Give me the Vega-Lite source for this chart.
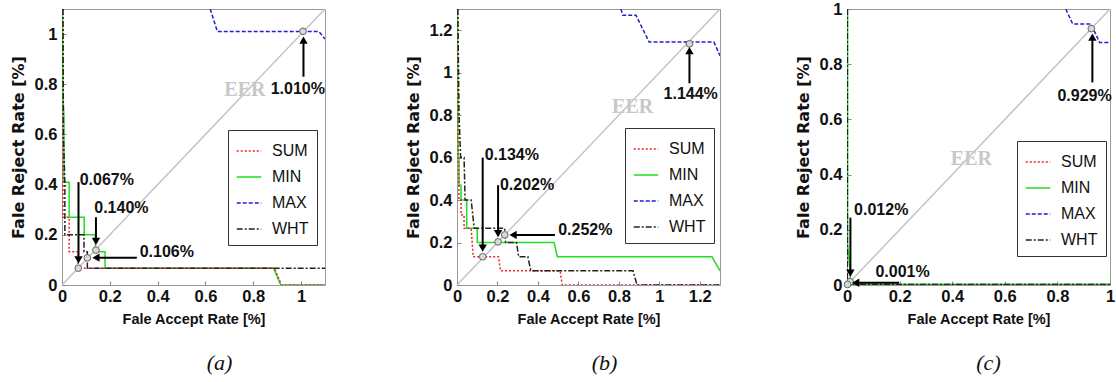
{
  "$schema": "https://vega.github.io/schema/vega-lite/v6.json",
  "padding": {"left": 9, "top": 0, "right": 0, "bottom": 0},
  "spacing": 75,
  "datasets": {
    "diagA": [{"x": 0, "y": 0}, {"x": 1.1, "y": 1.1}],
    "diagB": [{"x": 0, "y": 0}, {"x": 1.3, "y": 1.3}],
    "diagC": [{"x": 0, "y": 0}, {"x": 1, "y": 1}],
    "curvesA": [
      {"s": "MIN", "i": 0, "x": 0.002, "y": 1.1}, {"s": "MIN", "i": 1, "x": 0.004, "y": 0.75}, {"s": "MIN", "i": 2, "x": 0.008, "y": 0.67}, {"s": "MIN", "i": 3, "x": 0.008, "y": 0.41}, {"s": "MIN", "i": 4, "x": 0.03, "y": 0.41}, {"s": "MIN", "i": 5, "x": 0.03, "y": 0.27}, {"s": "MIN", "i": 6, "x": 0.093, "y": 0.27}, {"s": "MIN", "i": 7, "x": 0.093, "y": 0.2}, {"s": "MIN", "i": 8, "x": 0.14, "y": 0.2}, {"s": "MIN", "i": 9, "x": 0.14, "y": 0.133}, {"s": "MIN", "i": 10, "x": 0.18, "y": 0.133}, {"s": "MIN", "i": 11, "x": 0.18, "y": 0.067}, {"s": "MIN", "i": 12, "x": 0.885, "y": 0.067}, {"s": "MIN", "i": 13, "x": 0.915, "y": 0}, {"s": "MIN", "i": 14, "x": 1.1, "y": 0},
      {"s": "SUM", "i": 0, "x": 0.004, "y": 1.1}, {"s": "SUM", "i": 1, "x": 0.004, "y": 0.27}, {"s": "SUM", "i": 2, "x": 0.03, "y": 0.27}, {"s": "SUM", "i": 3, "x": 0.03, "y": 0.133}, {"s": "SUM", "i": 4, "x": 0.067, "y": 0.133}, {"s": "SUM", "i": 5, "x": 0.067, "y": 0.067}, {"s": "SUM", "i": 6, "x": 0.888, "y": 0.067}, {"s": "SUM", "i": 7, "x": 0.918, "y": 0}, {"s": "SUM", "i": 8, "x": 1.1, "y": 0},
      {"s": "WHT", "i": 0, "x": 0.004, "y": 1.1}, {"s": "WHT", "i": 1, "x": 0.006, "y": 0.6}, {"s": "WHT", "i": 2, "x": 0.012, "y": 0.4}, {"s": "WHT", "i": 3, "x": 0.012, "y": 0.2}, {"s": "WHT", "i": 4, "x": 0.092, "y": 0.2}, {"s": "WHT", "i": 5, "x": 0.092, "y": 0.133}, {"s": "WHT", "i": 6, "x": 0.106, "y": 0.133}, {"s": "WHT", "i": 7, "x": 0.106, "y": 0.067}, {"s": "WHT", "i": 8, "x": 1.1, "y": 0.067},
      {"s": "MAX", "i": 0, "x": 0.62, "y": 1.1}, {"s": "MAX", "i": 1, "x": 0.65, "y": 1.01}, {"s": "MAX", "i": 2, "x": 1.075, "y": 1.01}, {"s": "MAX", "i": 3, "x": 1.1, "y": 0.98}
    ],
    "curvesB": [
      {"s": "MIN", "i": 0, "x": 0.002, "y": 1.3}, {"s": "MIN", "i": 1, "x": 0.005, "y": 0.6}, {"s": "MIN", "i": 2, "x": 0.01, "y": 0.6}, {"s": "MIN", "i": 3, "x": 0.01, "y": 0.47}, {"s": "MIN", "i": 4, "x": 0.02, "y": 0.47}, {"s": "MIN", "i": 5, "x": 0.02, "y": 0.4}, {"s": "MIN", "i": 6, "x": 0.048, "y": 0.4}, {"s": "MIN", "i": 7, "x": 0.048, "y": 0.267}, {"s": "MIN", "i": 8, "x": 0.1, "y": 0.267}, {"s": "MIN", "i": 9, "x": 0.1, "y": 0.2}, {"s": "MIN", "i": 10, "x": 0.48, "y": 0.2}, {"s": "MIN", "i": 11, "x": 0.496, "y": 0.133}, {"s": "MIN", "i": 12, "x": 1.26, "y": 0.133}, {"s": "MIN", "i": 13, "x": 1.3, "y": 0.067},
      {"s": "SUM", "i": 0, "x": 0.003, "y": 1.3}, {"s": "SUM", "i": 1, "x": 0.005, "y": 0.7}, {"s": "SUM", "i": 2, "x": 0.01, "y": 0.4}, {"s": "SUM", "i": 3, "x": 0.02, "y": 0.4}, {"s": "SUM", "i": 4, "x": 0.02, "y": 0.33}, {"s": "SUM", "i": 5, "x": 0.035, "y": 0.33}, {"s": "SUM", "i": 6, "x": 0.035, "y": 0.267}, {"s": "SUM", "i": 7, "x": 0.07, "y": 0.267}, {"s": "SUM", "i": 8, "x": 0.075, "y": 0.2}, {"s": "SUM", "i": 9, "x": 0.08, "y": 0.133}, {"s": "SUM", "i": 10, "x": 0.205, "y": 0.133}, {"s": "SUM", "i": 11, "x": 0.215, "y": 0.067}, {"s": "SUM", "i": 12, "x": 0.51, "y": 0.067}, {"s": "SUM", "i": 13, "x": 0.52, "y": 0}, {"s": "SUM", "i": 14, "x": 1.3, "y": 0},
      {"s": "WHT", "i": 0, "x": 0.004, "y": 1.3}, {"s": "WHT", "i": 1, "x": 0.01, "y": 0.8}, {"s": "WHT", "i": 2, "x": 0.018, "y": 0.6}, {"s": "WHT", "i": 3, "x": 0.035, "y": 0.6}, {"s": "WHT", "i": 4, "x": 0.04, "y": 0.4}, {"s": "WHT", "i": 5, "x": 0.07, "y": 0.4}, {"s": "WHT", "i": 6, "x": 0.085, "y": 0.267}, {"s": "WHT", "i": 7, "x": 0.236, "y": 0.267}, {"s": "WHT", "i": 8, "x": 0.24, "y": 0.2}, {"s": "WHT", "i": 9, "x": 0.294, "y": 0.2}, {"s": "WHT", "i": 10, "x": 0.305, "y": 0.133}, {"s": "WHT", "i": 11, "x": 0.35, "y": 0.133}, {"s": "WHT", "i": 12, "x": 0.365, "y": 0.067}, {"s": "WHT", "i": 13, "x": 0.87, "y": 0.067}, {"s": "WHT", "i": 14, "x": 0.89, "y": 0}, {"s": "WHT", "i": 15, "x": 1.3, "y": 0},
      {"s": "MAX", "i": 0, "x": 0.81, "y": 1.3}, {"s": "MAX", "i": 1, "x": 0.82, "y": 1.27}, {"s": "MAX", "i": 2, "x": 0.885, "y": 1.27}, {"s": "MAX", "i": 3, "x": 0.95, "y": 1.144}, {"s": "MAX", "i": 4, "x": 1.27, "y": 1.144}, {"s": "MAX", "i": 5, "x": 1.3, "y": 1.08}
    ],
    "curvesC": [
      {"s": "MIN", "i": 0, "x": 0.002, "y": 1}, {"s": "MIN", "i": 1, "x": 0.002, "y": 0.15}, {"s": "MIN", "i": 2, "x": 0.012, "y": 0.05}, {"s": "MIN", "i": 3, "x": 0.012, "y": 0.003}, {"s": "MIN", "i": 4, "x": 1, "y": 0.003},
      {"s": "SUM", "i": 0, "x": 0.001, "y": 1}, {"s": "SUM", "i": 1, "x": 0.001, "y": 0.001}, {"s": "SUM", "i": 2, "x": 1, "y": 0.001},
      {"s": "WHT", "i": 0, "x": 0.0015, "y": 1}, {"s": "WHT", "i": 1, "x": 0.0015, "y": 0.002}, {"s": "WHT", "i": 2, "x": 1, "y": 0.002},
      {"s": "MAX", "i": 0, "x": 0.832, "y": 1}, {"s": "MAX", "i": 1, "x": 0.858, "y": 0.946}, {"s": "MAX", "i": 2, "x": 0.928, "y": 0.946}, {"s": "MAX", "i": 3, "x": 0.96, "y": 0.879}, {"s": "MAX", "i": 4, "x": 1, "y": 0.879}
    ],
    "eerA": [{"x": 0.068, "y": 0.067}, {"x": 0.106, "y": 0.108}, {"x": 0.142, "y": 0.139}, {"x": 1.008, "y": 1.011}],
    "eerB": [{"x": 0.127, "y": 0.133}, {"x": 0.203, "y": 0.203}, {"x": 0.236, "y": 0.236}, {"x": 1.149, "y": 1.136}],
    "eerC": [{"x": 0.012, "y": 0.012}, {"x": 0.002, "y": 0.002}, {"x": 0.929, "y": 0.929}],
    "arrowsA": [
      {"x": 1.01, "y": 0.83, "x2": 1.01, "y2": 0.976, "dir": "up"},
      {"x": 0.069, "y": 0.41, "x2": 0.069, "y2": 0.1, "dir": "down"},
      {"x": 0.142, "y": 0.27, "x2": 0.142, "y2": 0.174, "dir": "down"},
      {"x": 0.313, "y": 0.109, "x2": 0.142, "y2": 0.109, "dir": "left"}
    ],
    "arrowsB": [
      {"x": 1.149, "y": 0.95, "x2": 1.149, "y2": 1.104, "dir": "up"},
      {"x": 0.127, "y": 0.6, "x2": 0.127, "y2": 0.174, "dir": "down"},
      {"x": 0.203, "y": 0.47, "x2": 0.203, "y2": 0.242, "dir": "down"},
      {"x": 0.484, "y": 0.236, "x2": 0.277, "y2": 0.236, "dir": "left"}
    ],
    "arrowsC": [
      {"x": 0.933, "y": 0.734, "x2": 0.933, "y2": 0.898, "dir": "up"},
      {"x": 0.013, "y": 0.244, "x2": 0.013, "y2": 0.043, "dir": "down"},
      {"x": 0.198, "y": 0.008, "x2": 0.033, "y2": 0.008, "dir": "left"}
    ],
    "labelsA": [
      {"x": 0.873, "y": 0.78, "t": "1.010%"},
      {"x": 0.074, "y": 0.42, "t": "0.067%"},
      {"x": 0.135, "y": 0.305, "t": "0.140%"},
      {"x": 0.325, "y": 0.13, "t": "0.106%"}
    ],
    "labelsB": [
      {"x": 1.021, "y": 0.9, "t": "1.144%"},
      {"x": 0.137, "y": 0.613, "t": "0.134%"},
      {"x": 0.212, "y": 0.47, "t": "0.202%"},
      {"x": 0.5, "y": 0.26, "t": "0.252%"}
    ],
    "labelsC": [
      {"x": 0.8, "y": 0.686, "t": "0.929%"},
      {"x": 0.027, "y": 0.27, "t": "0.012%"},
      {"x": 0.108, "y": 0.048, "t": "0.001%"}
    ],
    "eerTextA": [{"x": 0.765, "y": 0.776, "t": "EER"}],
    "eerTextB": [{"x": 0.868, "y": 0.84, "t": "EER"}],
    "eerTextC": [{"x": 0.473, "y": 0.458, "t": "EER"}]
  },
  "hconcat": [
    {
      "width": 263, "height": 276,
      "title": {"text": "(a)", "dx": 26},
      "layer": [
        {"data": {"name": "diagA"}, "mark": {"type": "line", "color": "#c4c4c4", "strokeWidth": 1.5},
         "encoding": {
           "x": {"field": "x", "type": "quantitative", "scale": {"domain": [0, 1.1], "nice": false}, "axis": {"values": [0, 0.2, 0.4, 0.6, 0.8, 1], "format": "~g"}, "title": "Fale Accept Rate [%]"},
           "y": {"field": "y", "type": "quantitative", "scale": {"domain": [0, 1.1], "nice": false}, "axis": {"values": [0, 0.2, 0.4, 0.6, 0.8, 1], "format": "~g"}, "title": "Fale Reject Rate [%]"}
         }},
        {"data": {"name": "curvesA"}, "mark": {"type": "line", "strokeWidth": 1.5, "clip": true},
         "encoding": {
           "x": {"field": "x", "type": "quantitative"},
           "y": {"field": "y", "type": "quantitative"},
           "order": {"field": "i", "type": "quantitative"},
           "color": {"field": "s", "type": "nominal", "title": null, "scale": {"domain": ["SUM", "MIN", "MAX", "WHT"], "range": ["#e8252a", "#22dd22", "#1f1fd6", "#222222"]}, "legend": {"orient": "none", "legendX": 166, "legendY": 121}},
           "strokeDash": {"field": "s", "type": "nominal", "title": null, "scale": {"domain": ["SUM", "MIN", "MAX", "WHT"], "range": [[2, 2], [1, 0], [4, 2], [6, 2, 2, 2]]}, "legend": {"orient": "none", "legendX": 166, "legendY": 121}}
         }},
        {"data": {"name": "eerA"}, "mark": {"type": "point", "shape": "circle", "size": 45, "filled": true, "fill": "#d8d8d8", "stroke": "#666", "strokeWidth": 1, "opacity": 1},
         "encoding": {"x": {"field": "x", "type": "quantitative"}, "y": {"field": "y", "type": "quantitative"}}},
        {"data": {"name": "arrowsA"}, "mark": {"type": "rule", "color": "black", "strokeWidth": 2},
         "encoding": {"x": {"field": "x", "type": "quantitative"}, "y": {"field": "y", "type": "quantitative"}, "x2": {"field": "x2"}, "y2": {"field": "y2"}}},
        {"data": {"name": "arrowsA"}, "mark": {"type": "point", "filled": true, "color": "black", "size": 70, "opacity": 1},
         "encoding": {"x": {"field": "x2", "type": "quantitative"}, "y": {"field": "y2", "type": "quantitative"},
           "shape": {"field": "dir", "type": "nominal", "scale": {"domain": ["up", "down", "left"], "range": ["triangle-up", "triangle-down", "triangle-left"]}, "legend": null}}},
        {"data": {"name": "labelsA"}, "mark": {"type": "text", "align": "left", "baseline": "middle", "font": "Liberation Sans", "fontWeight": "bold", "fontSize": 16, "color": "#111"},
         "encoding": {"x": {"field": "x", "type": "quantitative"}, "y": {"field": "y", "type": "quantitative"}, "text": {"field": "t"}}},
        {"data": {"name": "eerTextA"}, "mark": {"type": "text", "align": "center", "baseline": "middle", "font": "Liberation Serif", "fontWeight": "bold", "fontSize": 20, "color": "#c8c8c8"},
         "encoding": {"x": {"field": "x", "type": "quantitative"}, "y": {"field": "y", "type": "quantitative"}, "text": {"field": "t"}}}
      ]
    },
    {
      "spacing": 70,
      "hconcat": [
        {
          "width": 263, "height": 276,
          "title": {"text": "(b)", "dx": 16},
          "layer": [
            {"data": {"name": "diagB"}, "mark": {"type": "line", "color": "#c4c4c4", "strokeWidth": 1.5},
             "encoding": {
               "x": {"field": "x", "type": "quantitative", "scale": {"domain": [0, 1.3], "nice": false}, "axis": {"values": [0, 0.2, 0.4, 0.6, 0.8, 1, 1.2], "format": "~g"}, "title": "Fale Accept Rate [%]"},
               "y": {"field": "y", "type": "quantitative", "scale": {"domain": [0, 1.3], "nice": false}, "axis": {"values": [0, 0.2, 0.4, 0.6, 0.8, 1, 1.2], "format": "~g"}, "title": "Fale Reject Rate [%]"}
             }},
            {"data": {"name": "curvesB"}, "mark": {"type": "line", "strokeWidth": 1.5, "clip": true},
             "encoding": {
               "x": {"field": "x", "type": "quantitative"},
               "y": {"field": "y", "type": "quantitative"},
               "order": {"field": "i", "type": "quantitative"},
               "color": {"field": "s", "type": "nominal", "title": null, "scale": {"domain": ["SUM", "MIN", "MAX", "WHT"], "range": ["#e8252a", "#22dd22", "#1f1fd6", "#222222"]}, "legend": {"orient": "none", "legendX": 168, "legendY": 119}},
               "strokeDash": {"field": "s", "type": "nominal", "title": null, "scale": {"domain": ["SUM", "MIN", "MAX", "WHT"], "range": [[2, 2], [1, 0], [4, 2], [6, 2, 2, 2]]}, "legend": {"orient": "none", "legendX": 168, "legendY": 119}}
             }},
            {"data": {"name": "eerB"}, "mark": {"type": "point", "shape": "circle", "size": 45, "filled": true, "fill": "#d8d8d8", "stroke": "#666", "strokeWidth": 1, "opacity": 1},
             "encoding": {"x": {"field": "x", "type": "quantitative"}, "y": {"field": "y", "type": "quantitative"}}},
            {"data": {"name": "arrowsB"}, "mark": {"type": "rule", "color": "black", "strokeWidth": 2},
             "encoding": {"x": {"field": "x", "type": "quantitative"}, "y": {"field": "y", "type": "quantitative"}, "x2": {"field": "x2"}, "y2": {"field": "y2"}}},
            {"data": {"name": "arrowsB"}, "mark": {"type": "point", "filled": true, "color": "black", "size": 70, "opacity": 1},
             "encoding": {"x": {"field": "x2", "type": "quantitative"}, "y": {"field": "y2", "type": "quantitative"},
               "shape": {"field": "dir", "type": "nominal", "scale": {"domain": ["up", "down", "left"], "range": ["triangle-up", "triangle-down", "triangle-left"]}, "legend": null}}},
            {"data": {"name": "labelsB"}, "mark": {"type": "text", "align": "left", "baseline": "middle", "font": "Liberation Sans", "fontWeight": "bold", "fontSize": 16, "color": "#111"},
             "encoding": {"x": {"field": "x", "type": "quantitative"}, "y": {"field": "y", "type": "quantitative"}, "text": {"field": "t"}}},
            {"data": {"name": "eerTextB"}, "mark": {"type": "text", "align": "center", "baseline": "middle", "font": "Liberation Serif", "fontWeight": "bold", "fontSize": 20, "color": "#c8c8c8"},
             "encoding": {"x": {"field": "x", "type": "quantitative"}, "y": {"field": "y", "type": "quantitative"}, "text": {"field": "t"}}}
          ]
        },
        {
          "width": 263, "height": 276,
          "title": {"text": "(c)", "dx": 10},
          "layer": [
            {"data": {"name": "diagC"}, "mark": {"type": "line", "color": "#c4c4c4", "strokeWidth": 1.5},
             "encoding": {
               "x": {"field": "x", "type": "quantitative", "scale": {"domain": [0, 1], "nice": false}, "axis": {"values": [0, 0.2, 0.4, 0.6, 0.8, 1], "format": "~g"}, "title": "Fale Accept Rate [%]"},
               "y": {"field": "y", "type": "quantitative", "scale": {"domain": [0, 1], "nice": false}, "axis": {"values": [0, 0.2, 0.4, 0.6, 0.8, 1], "format": "~g"}, "title": "Fale Reject Rate [%]"}
             }},
            {"data": {"name": "curvesC"}, "mark": {"type": "line", "strokeWidth": 1.5, "clip": true},
             "encoding": {
               "x": {"field": "x", "type": "quantitative"},
               "y": {"field": "y", "type": "quantitative"},
               "order": {"field": "i", "type": "quantitative"},
               "color": {"field": "s", "type": "nominal", "title": null, "scale": {"domain": ["SUM", "MIN", "MAX", "WHT"], "range": ["#e8252a", "#22dd22", "#1f1fd6", "#222222"]}, "legend": {"orient": "none", "legendX": 170, "legendY": 132}},
               "strokeDash": {"field": "s", "type": "nominal", "title": null, "scale": {"domain": ["SUM", "MIN", "MAX", "WHT"], "range": [[2, 2], [1, 0], [4, 2], [6, 2, 2, 2]]}, "legend": {"orient": "none", "legendX": 170, "legendY": 132}}
             }},
            {"data": {"name": "eerC"}, "mark": {"type": "point", "shape": "circle", "size": 45, "filled": true, "fill": "#d8d8d8", "stroke": "#666", "strokeWidth": 1, "opacity": 1},
             "encoding": {"x": {"field": "x", "type": "quantitative"}, "y": {"field": "y", "type": "quantitative"}}},
            {"data": {"name": "arrowsC"}, "mark": {"type": "rule", "color": "black", "strokeWidth": 2},
             "encoding": {"x": {"field": "x", "type": "quantitative"}, "y": {"field": "y", "type": "quantitative"}, "x2": {"field": "x2"}, "y2": {"field": "y2"}}},
            {"data": {"name": "arrowsC"}, "mark": {"type": "point", "filled": true, "color": "black", "size": 70, "opacity": 1},
             "encoding": {"x": {"field": "x2", "type": "quantitative"}, "y": {"field": "y2", "type": "quantitative"},
               "shape": {"field": "dir", "type": "nominal", "scale": {"domain": ["up", "down", "left"], "range": ["triangle-up", "triangle-down", "triangle-left"]}, "legend": null}}},
            {"data": {"name": "labelsC"}, "mark": {"type": "text", "align": "left", "baseline": "middle", "font": "Liberation Sans", "fontWeight": "bold", "fontSize": 16, "color": "#111"},
             "encoding": {"x": {"field": "x", "type": "quantitative"}, "y": {"field": "y", "type": "quantitative"}, "text": {"field": "t"}}},
            {"data": {"name": "eerTextC"}, "mark": {"type": "text", "align": "center", "baseline": "middle", "font": "Liberation Serif", "fontWeight": "bold", "fontSize": 20, "color": "#c8c8c8"},
             "encoding": {"x": {"field": "x", "type": "quantitative"}, "y": {"field": "y", "type": "quantitative"}, "text": {"field": "t"}}}
          ]
        }
      ],
      "resolve": {"legend": {"color": "independent", "strokeDash": "independent"}}
    }
  ],
  "resolve": {"legend": {"color": "independent", "strokeDash": "independent"}},
  "config": {
    "view": {"stroke": "#9a9a9a", "strokeWidth": 1},
    "axis": {"grid": false, "domain": false, "ticks": true, "tickSize": -4, "tickColor": "#888", "labelFont": "Liberation Sans", "labelFontWeight": "bold", "labelFontSize": 16.5, "labelColor": "#111", "titleColor": "#111", "titleFontWeight": "bold", "labelFlush": false},
    "axisX": {"labelPadding": 7, "titleFont": "Liberation Sans", "titleFontSize": 14.5, "titlePadding": 8},
    "axisY": {"labelPadding": 9, "titleFont": "DejaVu Sans", "titleFontSize": 16, "titlePadding": 8},
    "legend": {"labelFont": "Liberation Sans", "labelFontSize": 16, "labelColor": "#111", "symbolType": "stroke", "symbolSize": 600, "symbolStrokeWidth": 1.5, "strokeColor": "#333", "fillColor": "white", "padding": 8, "rowPadding": 5, "labelOffset": 10},
    "title": {"orient": "bottom", "font": "Liberation Serif", "fontStyle": "italic", "fontWeight": "normal", "fontSize": 22, "color": "#111", "anchor": "middle", "frame": "group", "offset": 27}
  }
}
